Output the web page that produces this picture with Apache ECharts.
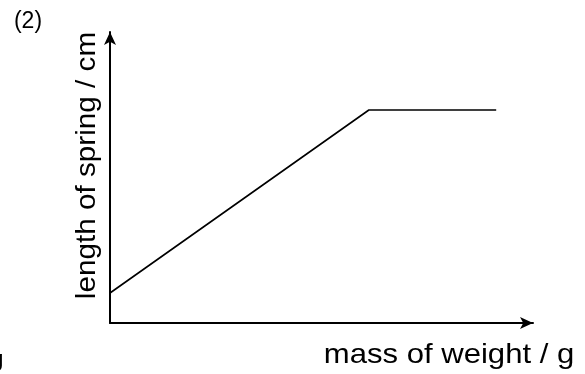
<!DOCTYPE html>
<html>
<head>
<meta charset="utf-8">
<script src="https://cdn.jsdelivr.net/npm/echarts@6/dist/echarts.min.js"></script>
<style>
  html, body { margin: 0; padding: 0; background: #fff; }
  #chart { width: 585px; height: 374px; }
</style>
</head>
<body>
<div id="chart"></div>
<script>
// Spring length against hanging mass: linear stretch, then a flat plateau.
var massValues = [0, 6.12, 9.13];
var lengthValues = [1.03, 7.32, 7.32];

var xAxisTitle = 'mass of weight / g';
var yAxisTitle = 'length of spring / cm';
var partLabel = '(2)';

var points = massValues.map(function (m, i) { return [m, lengthValues[i]]; });

var family = '"Liberation Sans", Arial, sans-serif';

var axisCommon = {
  type: 'value', min: 0, max: 10,
  axisLine: { show: true, symbol: ['none', 'arrow'], symbolSize: [9, 13],
              lineStyle: { color: '#000', width: 2 } },
  axisTick: { show: false }, axisLabel: { show: false }, splitLine: { show: false }
};

var chart = echarts.init(document.getElementById('chart'), null, { renderer: 'canvas' });
chart.setOption({
  animation: false,
  backgroundColor: '#fff',
  grid: { left: 110, right: 52, top: 32, bottom: 51 },
  xAxis: axisCommon,
  yAxis: axisCommon,
  series: [{
    type: 'line',
    data: points,
    symbol: 'none',
    lineStyle: { color: '#000', width: 1.6 }
  }],
  graphic: [
    { type: 'text', x: 28, y: 22,
      style: { text: partLabel, fontSize: 23, fontFamily: family, fill: '#000',
               align: 'center', verticalAlign: 'middle' } },
    // slightly widened lettering for the axis titles
    { type: 'text', x: 87, y: 165.5, rotation: Math.PI / 2, scaleX: 1.06,
      style: { text: yAxisTitle, fontSize: 28, fontFamily: family, fill: '#000',
               align: 'center', verticalAlign: 'middle' } },
    { type: 'text', x: 449, y: 355, scaleX: 1.11,
      style: { text: xAxisTitle, fontSize: 28, fontFamily: family, fill: '#000',
               align: 'center', verticalAlign: 'middle' } },
    { type: 'text', x: -10, y: 360,
      style: { text: 'g', fontSize: 22, fontWeight: 'bold', fontFamily: family, fill: '#000',
               verticalAlign: 'middle' } }
  ]
});
</script>
</body>
</html>
